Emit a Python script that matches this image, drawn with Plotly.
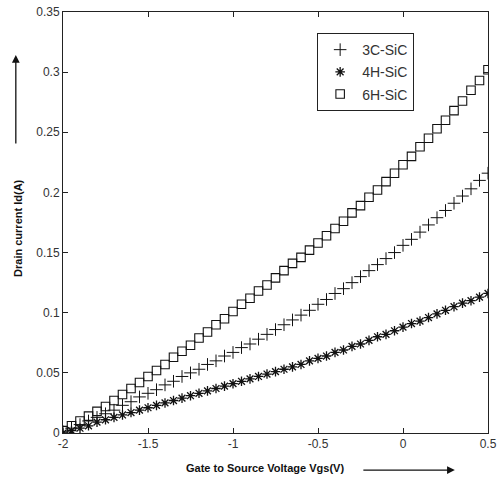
import plotly.graph_objects as go

# Gate-to-source voltage (V)
vgs = [-2.00, -1.95, -1.90, -1.85, -1.80, -1.75, -1.70, -1.65, -1.60, -1.55,
       -1.50, -1.45, -1.40, -1.35, -1.30, -1.25, -1.20, -1.15, -1.10, -1.05,
       -1.00, -0.95, -0.90, -0.85, -0.80, -0.75, -0.70, -0.65, -0.60, -0.55,
       -0.50, -0.45, -0.40, -0.35, -0.30, -0.25, -0.20, -0.15, -0.10, -0.05,
       0.00, 0.05, 0.10, 0.15, 0.20, 0.25, 0.30, 0.35, 0.40, 0.45, 0.50]

id_3c = [0.001, 0.004, 0.007, 0.010, 0.013, 0.016, 0.019, 0.023, 0.026, 0.030,
         0.033, 0.036, 0.040, 0.043, 0.047, 0.050, 0.053, 0.057, 0.060, 0.064,
         0.067, 0.071, 0.074, 0.078, 0.082, 0.086, 0.090, 0.094, 0.098, 0.102,
         0.107, 0.111, 0.116, 0.120, 0.125, 0.130, 0.135, 0.140, 0.145, 0.150,
         0.156, 0.161, 0.167, 0.173, 0.179, 0.185, 0.191, 0.197, 0.203, 0.210, 0.216]

id_4h = [0.000, 0.002, 0.004, 0.006, 0.009, 0.011, 0.013, 0.015, 0.017, 0.019,
         0.021, 0.023, 0.025, 0.027, 0.029, 0.031, 0.033, 0.035, 0.037, 0.039,
         0.041, 0.043, 0.045, 0.047, 0.049, 0.051, 0.053, 0.055, 0.057, 0.060,
         0.062, 0.064, 0.067, 0.069, 0.072, 0.074, 0.077, 0.080, 0.082, 0.085,
         0.088, 0.091, 0.093, 0.096, 0.099, 0.102, 0.105, 0.108, 0.110, 0.113, 0.116]

id_6h = [0.002, 0.006, 0.010, 0.014, 0.018, 0.022, 0.027, 0.032, 0.037, 0.042,
         0.047, 0.052, 0.057, 0.063, 0.068, 0.073, 0.079, 0.084, 0.090, 0.095,
         0.101, 0.107, 0.112, 0.118, 0.123, 0.129, 0.135, 0.141, 0.146, 0.152,
         0.158, 0.164, 0.170, 0.176, 0.183, 0.189, 0.196, 0.202, 0.209, 0.216,
         0.223, 0.230, 0.238, 0.245, 0.253, 0.260, 0.268, 0.276, 0.285, 0.293, 0.302]

series_names = ["3C-SiC", "4H-SiC", "6H-SiC"]

x_tickvals = [-2, -1.5, -1, -0.5, 0, 0.5]
x_ticktext = ["-2", "-1.5", "-1", "-0.5", "0", "0.5"]
y_tickvals = [0, 0.05, 0.1, 0.15, 0.2, 0.25, 0.3, 0.35]
y_ticktext = ["0", "0.05", "0.1", "0.15", "0.2", "0.25", "0.3", "0.35"]

FONT = "Liberation Sans Narrow, Liberation Sans, Arial, sans-serif"
BOLD = "Liberation Sans, Arial, sans-serif"
INK = "#111"

fig = go.Figure()
fig.add_trace(go.Scatter(x=vgs, y=id_3c, mode="markers", name=series_names[0],
                         legendgroup="a",
                         marker=dict(symbol="cross-thin-open", size=9, color=INK,
                                     line=dict(color=INK, width=1))))
fig.add_trace(go.Scatter(x=vgs, y=id_4h, mode="markers", name=series_names[1],
                         legendgroup="b",
                         marker=dict(symbol="asterisk-open", size=8, color=INK,
                                     line=dict(color=INK, width=1.3))))
fig.add_trace(go.Scatter(x=vgs, y=id_6h, mode="markers", name=series_names[2],
                         legendgroup="c",
                         marker=dict(symbol="square-open", size=8.5, color=INK,
                                     line=dict(color=INK, width=1.1))))

axis_common = dict(showline=True, linecolor="#222", linewidth=1, mirror="ticks",
                   ticks="inside", ticklen=5, tickcolor="#222", showgrid=False,
                   zeroline=False, ticklabeloverflow="allow", automargin=False,
                   tickfont=dict(family=FONT, size=12, color="#333"))

fig.update_xaxes(range=[-2, 0.5], tickvals=x_tickvals, ticktext=x_ticktext, **axis_common)
fig.update_yaxes(range=[0, 0.35], tickvals=y_tickvals, ticktext=y_ticktext, **axis_common)

fig.update_layout(
    width=497, height=483,
    margin=dict(l=63, r=9, t=12, b=50, autoexpand=False),
    plot_bgcolor="white", paper_bgcolor="white",
    font=dict(family=FONT, color="#222"),
    legend=dict(x=0.598, y=0.95, xanchor="left", yanchor="top",
                bordercolor="#222", borderwidth=1, bgcolor="white",
                font=dict(family=FONT, size=14, color="#333"),
                itemwidth=34, traceorder="grouped", tracegroupgap=1),
    showlegend=True,
)

# Axis titles with arrows
fig.add_annotation(text="<b>Gate to Source Voltage Vgs(V)</b>", xref="paper", yref="paper",
                   x=0.475, y=-0.063, xanchor="center", yanchor="top", showarrow=False,
                   font=dict(family=BOLD, size=11, color=INK))
fig.add_annotation(text="", xref="paper", yref="paper", x=0.922, y=-0.088,
                   ax=-93, ay=0, showarrow=True, arrowhead=2, arrowsize=1.2,
                   arrowwidth=1.3, arrowcolor=INK)
fig.add_annotation(text="<b>Drain current Id(A)</b>", xref="paper", yref="paper",
                   x=-0.106, y=0.487, xanchor="center", yanchor="middle", textangle=-90,
                   showarrow=False,
                   font=dict(family=BOLD, size=11, color=INK))
fig.add_annotation(text="", xref="paper", yref="paper", x=-0.111, y=0.898,
                   ax=0, ay=90, showarrow=True, arrowhead=2, arrowsize=1.2,
                   arrowwidth=1.3, arrowcolor=INK)

# remove the page's default body margin so the figure sits at the window origin
fig.write_html("out.html", config={"displayModeBar": False},
               post_script="document.body.style.margin='0';document.body.style.overflow='hidden';")
